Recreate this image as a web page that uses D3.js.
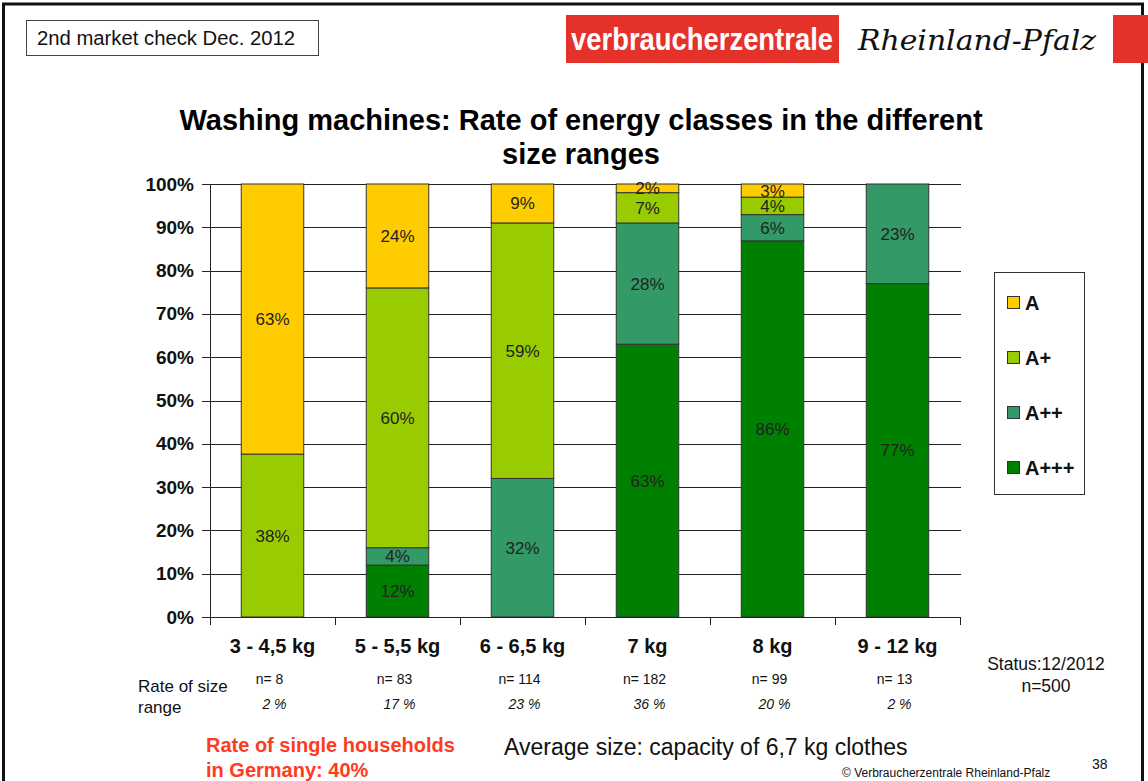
<!DOCTYPE html>
<html>
<head>
<meta charset="utf-8">
<script src="https://cdn.jsdelivr.net/npm/d3@7"></script>
<style>
  body { margin: 0; background: #fff; }
  svg { display: block; font-family: "Liberation Sans", Arial, sans-serif; }
</style>
</head>
<body>
<svg width="1148" height="781"></svg>
<script>
// size ranges (categories)
const sizeRanges = ["3 - 4,5 kg", "5 - 5,5 kg", "6 - 6,5 kg", "7 kg", "8 kg", "9 - 12 kg"];
// energy classes, bottom to top of the stack
const energyClasses = ["A+++", "A++", "A+", "A"];
// share of each class per size range, in percent (as labelled)
const classA3 = [0, 12, 0, 63, 86, 77];
const classA2 = [0, 4, 32, 28, 6, 23];
const classA1 = [38, 60, 59, 7, 4, 0];
const classA0 = [63, 24, 9, 2, 3, 0];
// sample sizes and share of size range
const nCounts = [8, 83, 114, 182, 99, 13];
const rangeShare = ["2 %", "17 %", "23 %", "36 %", "20 %", "2 %"];
const yTicks = [0, 0.1, 0.2, 0.3, 0.4, 0.5, 0.6, 0.7, 0.8, 0.9, 1];

const colors = { "A": "#ffcc00", "A+": "#99cc00", "A++": "#339966", "A+++": "#008000" };

const svg = d3.select("svg");

// page frame
svg.append("rect").attr("x", 3.5).attr("y", 4).attr("width", 1139).attr("height", 790)
    .attr("fill", "none").attr("stroke", "#111").attr("stroke-width", 3);

// header
svg.append("rect").attr("x", 26.5).attr("y", 20.5).attr("width", 292).attr("height", 35)
    .attr("fill", "#fff").attr("stroke", "#444").attr("stroke-width", 1);
svg.append("text").attr("x", 37).attr("y", 45).attr("font-size", 20).attr("fill", "#111")
    .attr("textLength", 258).attr("lengthAdjust", "spacingAndGlyphs")
    .text("2nd market check Dec. 2012");

svg.append("rect").attr("x", 566).attr("y", 15).attr("width", 273).attr("height", 48).attr("fill", "#e4322b");
svg.append("text").attr("x", 702).attr("y", 50).attr("text-anchor", "middle")
    .attr("font-family", "'Liberation Sans Narrow', 'Liberation Sans', Arial, sans-serif")
    .attr("font-weight", "bold").attr("font-size", 32).attr("fill", "#fff")
    .attr("textLength", 262).attr("lengthAdjust", "spacingAndGlyphs")
    .text("verbraucherzentrale");
svg.append("text").attr("x", 858).attr("y", 50)
    .attr("font-family", "'DejaVu Serif', serif").attr("font-style", "italic")
    .attr("font-size", 27).attr("fill", "#111")
    .attr("textLength", 238).attr("lengthAdjust", "spacingAndGlyphs")
    .text("Rheinland-Pfalz");
svg.append("rect").attr("x", 1113).attr("y", 15).attr("width", 35).attr("height", 48).attr("fill", "#e4322b");

// title
const title = svg.append("text").attr("text-anchor", "middle").attr("font-weight", "bold")
    .attr("font-size", 29).attr("fill", "#000");
title.append("tspan").attr("x", 581).attr("y", 130).text("Washing machines: Rate of energy classes in the different");
title.append("tspan").attr("x", 581).attr("y", 164).text("size ranges");

// chart
const plotLeft = 210, plotRight = 960, plotTop = 184, plotBottom = 617;

const x = d3.scaleBand().domain(sizeRanges).range([plotLeft, plotRight]).paddingInner(0.5).paddingOuter(0.25);
const xEdge = d3.scaleLinear().domain([0, sizeRanges.length]).range([plotLeft, plotRight]);
const y = d3.scaleLinear().domain([0, 1]).range([plotBottom, plotTop]);

const table = sizeRanges.map((s, i) => ({
    size: s, "A+++": classA3[i], "A++": classA2[i], "A+": classA1[i], "A": classA0[i]
}));
const series = d3.stack().keys(energyClasses).offset(d3.stackOffsetExpand)(table);

// gridlines
svg.append("g").selectAll("line").data(yTicks).join("line")
    .attr("x1", plotLeft - 8).attr("x2", plotRight + 1)
    .attr("y1", d => Math.round(y(d)) + 0.5).attr("y2", d => Math.round(y(d)) + 0.5)
    .attr("stroke", "#222").attr("stroke-width", 1);

// bars
const layer = svg.append("g").selectAll("g").data(series).join("g")
    .attr("fill", d => colors[d.key]);
layer.selectAll("rect").data(d => d.filter(p => p[1] - p[0] > 0)).join("rect")
    .attr("x", d => x(d.data.size))
    .attr("y", d => y(d[1]))
    .attr("width", x.bandwidth())
    .attr("height", d => y(d[0]) - y(d[1]))
    .attr("stroke", "#333").attr("stroke-width", 1);

// segment labels
svg.append("g").selectAll("g").data(series).join("g")
    .each(function (s) {
        d3.select(this).selectAll("text").data(s.filter(p => p.data[s.key] > 0)).join("text")
            .attr("x", d => x(d.data.size) + x.bandwidth() / 2)
            .attr("y", d => y((d[0] + d[1]) / 2) + 6)
            .attr("text-anchor", "middle").attr("font-size", 17).attr("fill", "#222")
            .text(d => d.data[s.key] + "%");
    });

// y axis
const yAxis = svg.append("g").attr("transform", `translate(${plotLeft},0)`)
    .call(d3.axisLeft(y).tickValues(yTicks).tickFormat(d3.format(".0%")).tickSize(8).tickPadding(8));
yAxis.select(".domain").attr("stroke", "#222");
yAxis.selectAll(".tick line").remove();
yAxis.selectAll("text").attr("font-size", 19).attr("font-weight", "bold").attr("fill", "#111")
    .attr("font-family", "'Liberation Sans', Arial, sans-serif");

// x axis: boundary ticks
const xAxis = svg.append("g").attr("transform", `translate(0,${plotBottom})`)
    .call(d3.axisBottom(xEdge).ticks(sizeRanges.length).tickFormat("").tickSize(8).tickSizeOuter(0));
xAxis.select(".domain").attr("stroke", "#222");
xAxis.selectAll(".tick line").attr("stroke", "#222");

// x labels
const xLabels = svg.append("g").attr("transform", `translate(0,${plotBottom})`)
    .call(d3.axisBottom(x).tickSize(0).tickPadding(22));
xLabels.select(".domain").remove();
xLabels.selectAll("text").attr("font-size", 20).attr("font-weight", "bold").attr("fill", "#111")
    .attr("font-family", "'Liberation Sans', Arial, sans-serif");

// sample sizes and range shares
svg.append("g").selectAll("text").data(nCounts).join("text")
    .attr("x", (d, i) => x(sizeRanges[i]) + x.bandwidth() / 2 - 3)
    .attr("y", 684).attr("text-anchor", "middle").attr("font-size", 14).attr("fill", "#111")
    .text(d => "n= " + d);
svg.append("g").selectAll("text").data(rangeShare).join("text")
    .attr("x", (d, i) => x(sizeRanges[i]) + x.bandwidth() / 2 + 2)
    .attr("y", 709).attr("text-anchor", "middle").attr("font-size", 14).attr("font-style", "italic")
    .attr("fill", "#111").text(d => d);

const rate = svg.append("text").attr("font-size", 17).attr("fill", "#111");
rate.append("tspan").attr("x", 138).attr("y", 692).text("Rate of size");
rate.append("tspan").attr("x", 138).attr("y", 713).text("range");

const status = svg.append("text").attr("text-anchor", "middle").attr("font-size", 17.5).attr("fill", "#111");
status.append("tspan").attr("x", 1046).attr("y", 670).text("Status:12/2012");
status.append("tspan").attr("x", 1046).attr("y", 692).text("n=500");

// legend
const legend = svg.append("g").attr("transform", "translate(994,272)");
legend.append("rect").attr("x", 0.5).attr("y", 0.5).attr("width", 90).attr("height", 222)
    .attr("fill", "#fff").attr("stroke", "#333");
const legendItems = energyClasses.slice().reverse();
const ly = d3.scalePoint().domain(legendItems).range([31, 196]);
const li = legend.selectAll("g.item").data(legendItems).join("g").attr("class", "item")
    .attr("transform", d => `translate(0,${ly(d)})`);
li.append("rect").attr("x", 13.5).attr("y", -6.5).attr("width", 12).attr("height", 12)
    .attr("fill", d => colors[d]).attr("stroke", "#333");
li.append("text").attr("x", 31).attr("y", 7).attr("font-size", 20).attr("font-weight", "bold")
    .attr("fill", "#111").text(d => d);

// footer
const single = svg.append("text").attr("font-size", 20).attr("font-weight", "bold").attr("fill", "#ff3b1f");
single.append("tspan").attr("x", 206).attr("y", 752).text("Rate of single households");
single.append("tspan").attr("x", 206).attr("y", 777).text("in Germany: 40%");

svg.append("text").attr("x", 504).attr("y", 755).attr("font-size", 23).attr("fill", "#111")
    .text("Average size: capacity of 6,7 kg clothes");
svg.append("text").attr("x", 1092).attr("y", 769).attr("font-size", 14).attr("fill", "#111").text("38");
svg.append("text").attr("x", 842).attr("y", 777).attr("font-size", 12).attr("fill", "#111")
    .text("© Verbraucherzentrale Rheinland-Pfalz");
</script>
</body>
</html>
